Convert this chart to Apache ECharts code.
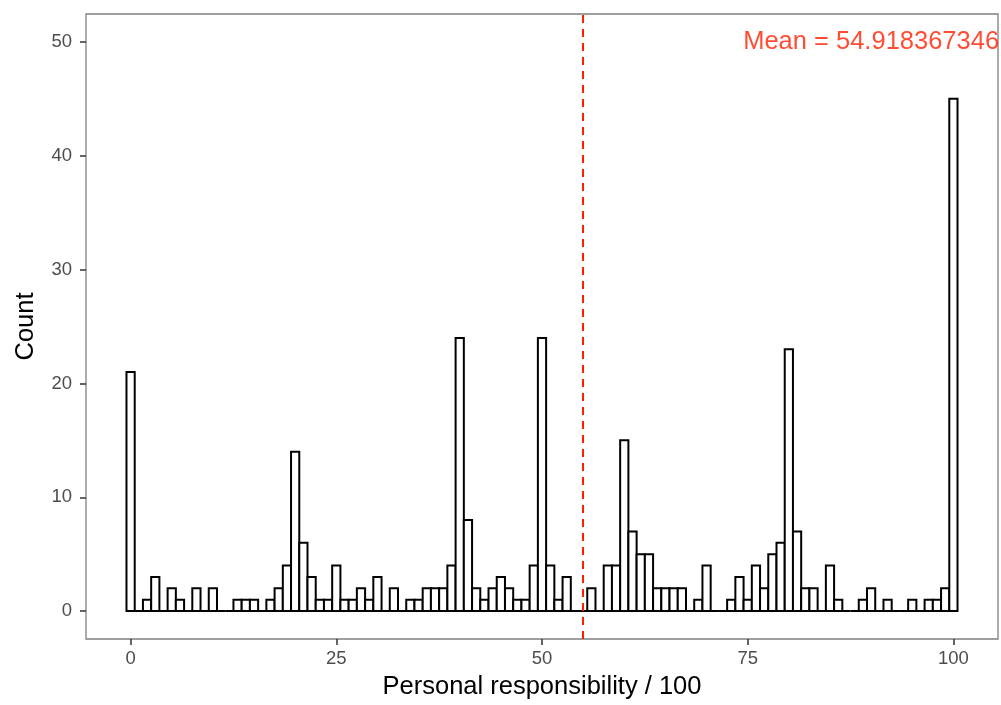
<!DOCTYPE html>
<html>
<head>
<meta charset="utf-8">
<script src="https://cdn.jsdelivr.net/npm/echarts@6/dist/echarts.min.js"></script>
<style>
  html, body { margin: 0; padding: 0; background: #fff; }
  #hist { width: 1001px; height: 705px; }
</style>
</head>
<body>
<div id="hist"></div>
<script>
// histogram bins 0..100 (width 1) and their counts
var bins = [];
for (var i = 0; i <= 100; i++) bins.push(i);
var counts = [
    21, 0, 1, 3, 0, 2, 1, 0, 2, 0, 2,
    0, 0, 1, 1, 1, 0, 1, 2, 4, 14,
    6, 3, 1, 1, 4, 1, 1, 2, 1, 3,
    0, 2, 0, 1, 1, 2, 2, 2, 4, 24,
    8, 2, 1, 2, 3, 2, 1, 1, 4, 24,
    4, 1, 3, 0, 0, 2, 0, 4, 4, 15,
    7, 5, 5, 2, 2, 2, 2, 0, 1, 4,
    0, 0, 1, 3, 1, 4, 2, 5, 6, 23,
    7, 2, 2, 0, 4, 1, 0, 0, 1, 2,
    0, 1, 0, 0, 1, 0, 1, 1, 2, 45
];
var meanValue = 54.918367346;
var meanLabel = 'Mean = 54.918367346';
var xTicks = [0, 25, 50, 75, 100];
var yTicks = [0, 10, 20, 30, 40, 50];

function histogram() {
    var myChart = echarts.init(document.getElementById('hist'));

    var histData = bins.map(function (b, i) { return [b, counts[i]]; });

    var option = {
        animation: false,
        grid: {
            left: 86,
            right: 3,
            top: 14,
            bottom: 63,
            show: true,
            borderColor: '#808080',
            borderWidth: 1.3
        },
        xAxis: {
            type: 'value',
            min: -5.42,
            max: 105.42,
            name: 'Personal responsibility / 100',
            nameLocation: 'middle',
            nameGap: 35,
            nameTextStyle: { color: '#000', fontSize: 25.5, fontFamily: 'Liberation Sans' },
            axisLine: { show: false, onZero: false },
            splitLine: { show: false },
            axisTick: {
                show: true,
                length: 6,
                customValues: xTicks,
                lineStyle: { color: '#333', width: 1.5 }
            },
            axisLabel: {
                customValues: xTicks,
                color: '#4d4d4d',
                fontSize: 18.5,
                fontFamily: 'Liberation Sans',
                margin: 10
            }
        },
        yAxis: {
            type: 'value',
            min: -2.45,
            max: 52.45,
            name: 'Count',
            nameLocation: 'middle',
            nameGap: 47,
            nameTextStyle: { color: '#000', fontSize: 25.5, fontFamily: 'Liberation Sans' },
            axisLine: { show: false, onZero: false },
            splitLine: { show: false },
            axisTick: {
                show: true,
                length: 6,
                customValues: yTicks,
                lineStyle: { color: '#333', width: 1.5 }
            },
            axisLabel: {
                customValues: yTicks,
                color: '#4d4d4d',
                fontSize: 18.5,
                fontFamily: 'Liberation Sans',
                margin: 14
            }
        },
        series: [
            {
                name: 'count',
                type: 'custom',
                data: histData,
                z: 2,
                renderItem: function (params, api) {
                    var x = api.value(0);
                    var c = api.value(1);
                    var p0 = api.coord([x - 0.5, 0]);
                    var p1 = api.coord([x + 0.5, c]);
                    return {
                        type: 'rect',
                        shape: { x: p0[0], y: p1[1], width: p1[0] - p0[0], height: p0[1] - p1[1] },
                        style: { fill: '#fff', stroke: '#000', lineWidth: 2 }
                    };
                }
            },
            {
                name: 'mean',
                type: 'scatter',
                data: [[90, 50]],
                symbolSize: 0,
                z: 5,
                silent: true,
                label: {
                    show: true,
                    position: 'inside',
                    formatter: meanLabel,
                    color: '#ff1f00',
                    fontSize: 25.5,
                    fontFamily: 'Liberation Sans'
                },
                markLine: {
                    symbol: 'none',
                    silent: true,
                    label: { show: false },
                    lineStyle: { color: '#ff1f00', type: [8, 6], width: 2 },
                    data: [{ xAxis: meanValue }]
                }
            }
        ]
    };

    myChart.setOption(option);
    window.addEventListener('resize', function () {
        myChart.resize();
    });
}

histogram();
</script>
</body>
</html>
